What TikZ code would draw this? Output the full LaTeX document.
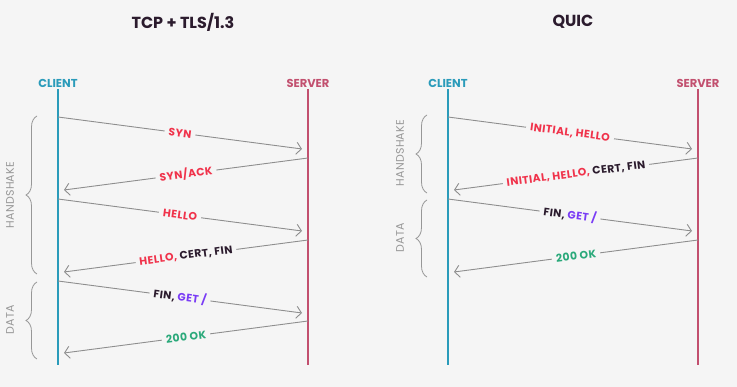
\documentclass[tikz,border=0pt]{standalone}
\usepackage{fontspec}
\setmainfont{Poppins}
\usetikzlibrary{arrows.meta,decorations.pathreplacing}

\definecolor{bg}{HTML}{F5F5F5}
\definecolor{titlecol}{HTML}{2B1B2D}
\definecolor{clientcol}{HTML}{2A9BBA}
\definecolor{servercol}{HTML}{C2506F}
\definecolor{arrowgray}{HTML}{8E8E8E}
\definecolor{phasegray}{HTML}{979797}
\definecolor{msgred}{HTML}{F0334B}
\definecolor{msgdark}{HTML}{2B1B2D}
\definecolor{msgpurple}{HTML}{7A3CF5}
\definecolor{msggreen}{HTML}{2AA97A}

\tikzset{
  title/.style={font=\fontsize{16}{19}\selectfont\bfseries, text=titlecol},
  who/.style={font=\fontsize{11.5}{13}\selectfont\bfseries, inner sep=1.5pt},
  life/.style={line width=1.6pt},
  msg/.style={draw=arrowgray, line width=0.9pt, -{Straight Barb[length=5pt,width=12pt]}},
  lbl/.style={midway, sloped, fill=bg, inner sep=4pt,
    font=\fontsize{10.8}{12}\selectfont\bfseries\addfontfeatures{LetterSpace=4}},
  phase/.style={draw=phasegray, line width=0.8pt, decorate, decoration={brace, amplitude=11pt, mirror}},
  phasetext/.style={rotate=90, text=phasegray, font=\fontsize{11}{13}\selectfont\addfontfeatures{LetterSpace=2}}
}

\begin{document}
\begin{tikzpicture}[x=1pt,y=-1pt]
	\fill[bg] (0,0) rectangle (737,387);
	\useasboundingbox (0,0) rectangle (737,387);

	% TCP + TLS/1.3
	\begin{scope}
	\node[title] (t1) at (183,22) {TCP + TLS/1.3};
	\node[who, text=clientcol] (c1) at (58,83) {CLIENT};
	\node[who, text=servercol] (s1) at (308,83) {SERVER};
	\coordinate (c1end) at (58,365);
	\coordinate (s1end) at (308,365);
	\draw[life, clientcol] (c1.south) -- (c1end);
	\draw[life, servercol] (s1.south) -- (s1end);

	\coordinate (a1) at (58,117);  \coordinate (b1) at (302,149);
	\coordinate (a2) at (308,158); \coordinate (b2) at (64,190);
	\coordinate (a3) at (58,199);  \coordinate (b3) at (302,231);
	\coordinate (a4) at (308,240); \coordinate (b4) at (64,272);
	\coordinate (a5) at (58,281);  \coordinate (b5) at (302,313);
	\coordinate (a6) at (308,321); \coordinate (b6) at (64,353);
	\draw[msg] (a1) -- node[lbl, text=msgred] {SYN} (b1);
	\draw[msg] (a2) -- node[lbl, text=msgred] {SYN/ACK} (b2);
	\draw[msg] (a3) -- node[lbl, text=msgred] {HELLO} (b3);
	\draw[msg] (a4) -- node[lbl] {\textcolor{msgred}{HELLO,} \textcolor{msgdark}{CERT, FIN}} (b4);
	\draw[msg] (a5) -- node[lbl] {\textcolor{msgdark}{FIN,} \textcolor{msgpurple}{GET /}} (b5);
	\draw[msg] (a6) -- node[lbl, text=msggreen] {200 OK} (b6);

	\coordinate (h1top) at (37,116); \coordinate (h1bot) at (37,274);
	\coordinate (d1top) at (37,282); \coordinate (d1bot) at (37,359);
	\draw[phase] (h1top) -- (h1bot);
	\draw[phase] (d1top) -- (d1bot);
	\node[phasetext] (h1) at (10,195) {HANDSHAKE};
	\node[phasetext] (d1) at (10,320) {DATA};
	\end{scope}

	% QUIC
	\begin{scope}
	\node[title] (t2) at (573,22) {QUIC};
	\node[who, text=clientcol] (c2) at (448,83) {CLIENT};
	\node[who, text=servercol] (s2) at (698,83) {SERVER};
	\coordinate (c2end) at (448,365);
	\coordinate (s2end) at (698,365);
	\draw[life, clientcol] (c2.south) -- (c2end);
	\draw[life, servercol] (s2.south) -- (s2end);

	\coordinate (p1) at (448,117); \coordinate (q1) at (692,149);
	\coordinate (p2) at (698,158); \coordinate (q2) at (454,190);
	\coordinate (p3) at (448,199); \coordinate (q3) at (692,231);
	\coordinate (p4) at (698,240); \coordinate (q4) at (454,272);
	\draw[msg] (p1) -- node[lbl, text=msgred] {INITIAL, HELLO} (q1);
	\draw[msg] (p2) -- node[lbl] {\textcolor{msgred}{INITIAL, HELLO,} \textcolor{msgdark}{CERT, FIN}} (q2);
	\draw[msg] (p3) -- node[lbl] {\textcolor{msgdark}{FIN,} \textcolor{msgpurple}{GET /}} (q3);
	\draw[msg] (p4) -- node[lbl, text=msggreen] {200 OK} (q4);

	\coordinate (h2top) at (427,115); \coordinate (h2bot) at (427,193);
	\coordinate (d2top) at (427,200); \coordinate (d2bot) at (427,277);
	\draw[phase] (h2top) -- (h2bot);
	\draw[phase] (d2top) -- (d2bot);
	\node[phasetext] (h2) at (400,153) {HANDSHAKE};
	\node[phasetext] (d2) at (400,238) {DATA};
	\end{scope}
\end{tikzpicture}
\end{document}
